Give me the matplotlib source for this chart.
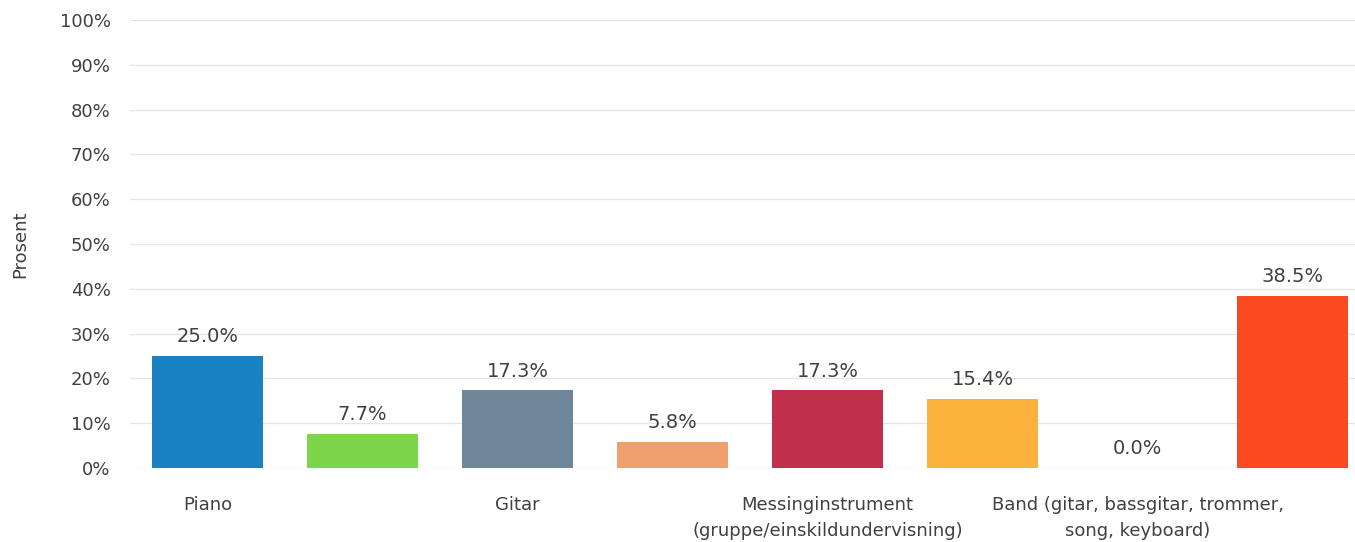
import matplotlib.pyplot as plt
import numpy as np

plt.rcParams['font.family'] = ['DejaVu Sans']

# only every other category label is printed in the source chart
tick_labels = ['Piano', '', 'Gitar', '',
               'Messinginstrument\n(gruppe/einskildundervisning)', '',
               'Band (gitar, bassgitar, trommer,\nsong, keyboard)', '']
values = [25.0, 7.7, 17.3, 5.8, 17.3, 15.4, 0.0, 38.5]
bar_colors = ['#1a82c0', '#7dd64a', '#6d8699', '#f0a06c',
              '#c0304a', '#fbb23c', '#f6a7a0', '#fb4a20']
y_ticks = np.arange(0, 101, 10)

text_color = '#404040'
fs = 13

fig = plt.figure(figsize=(13.55, 5.42), dpi=100)
ax = fig.add_axes([130 / 1355, 74 / 542, 1240 / 1355, 448 / 542])

x = np.arange(len(values))
bars = ax.bar(x, values, width=0.71, color=bar_colors, zorder=3)

for xi, v in zip(x, values):
    ax.annotate(f'{v:.1f}%', xy=(xi, v), xytext=(0, 7), textcoords='offset points',
                ha='center', va='bottom', fontsize=14, color=text_color)

ax.set_xlim(-0.5, len(values) - 0.5)
ax.set_ylim(0, 100)
ax.set_yticks(y_ticks)
ax.set_yticklabels([f'{t}%' for t in y_ticks])
ax.set_xticks(x)
ax.set_xticklabels(tick_labels, fontsize=fs, color=text_color, linespacing=1.6)
ax.tick_params(axis='y', labelsize=fs, labelcolor=text_color, length=0, pad=14)
ax.tick_params(axis='x', length=0, pad=20)
ax.set_ylabel('Prosent', fontsize=fs, color=text_color, labelpad=22)

ax.grid(axis='y', color='#e6e6e6', linewidth=1, zorder=0)
for spine in ax.spines.values():
    spine.set_visible(False)

plt.savefig('out.png', dpi=100)
